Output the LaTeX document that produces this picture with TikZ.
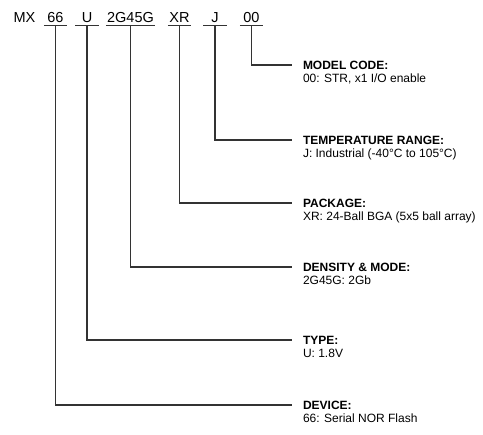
\documentclass[tikz,border=0pt]{standalone}
\usepackage{fontspec}
\setmainfont{Liberation Sans}
\usetikzlibrary{positioning}

\begin{document}
\begin{tikzpicture}[x=1pt,y=-1pt,
	code/.style={font=\fontsize{14.5}{17}\selectfont,inner xsep=1pt,inner ysep=2pt,
		text depth=0pt,minimum width=23pt,anchor=base},
	ttl/.style={font=\bfseries\fontsize{12}{14}\selectfont,inner sep=0pt,outer xsep=11pt,
		text height=8.6pt,text depth=0pt,anchor=west},
	dsc/.style={font=\fontsize{12}{14}\selectfont,inner sep=0pt,outer xsep=11pt,anchor=base west},
	lead/.style={draw=black!80,line width=1.1pt}]
	\useasboundingbox (0,0) rectangle (483,435);
	\node[code] (mx) at (24.5,23) {MX};
	\foreach \tk/\cx/\cy/\lab/\ttx/\dtx in {
		dev/55.5/405/{66}/{DEVICE:}/{66: Serial NOR Flash},
		typ/87/340/{U}/{TYPE:}/{U: 1.8V},
		den/130.5/267/{2G45G}/{DENSITY \& MODE:}/{2G45G: 2Gb},
		pkg/179.5/203/{XR}/{PACKAGE:}/{XR: 24-Ball BGA (5x5 ball array)},
		tmp/215/140/{J}/{TEMPERATURE RANGE:}/{J: Industrial (-40°C to 105°C)},
		mdl/251.5/65/{00}/{MODEL CODE:}/{00: STR, x1 I/O enable}}{
		\node[code] (c-\tk) at (\cx,23) {\lab};
		\node[ttl] (t-\tk) at (292,\cy) {\ttx};
		\node[dsc,yshift=-13.5pt] (d-\tk) at (t-\tk.base west) {\dtx};
		\draw[lead] (c-\tk.south west) -- (c-\tk.south east);
		\draw[lead] (c-\tk.south) |- (t-\tk.west);
	}
\end{tikzpicture}
\end{document}
